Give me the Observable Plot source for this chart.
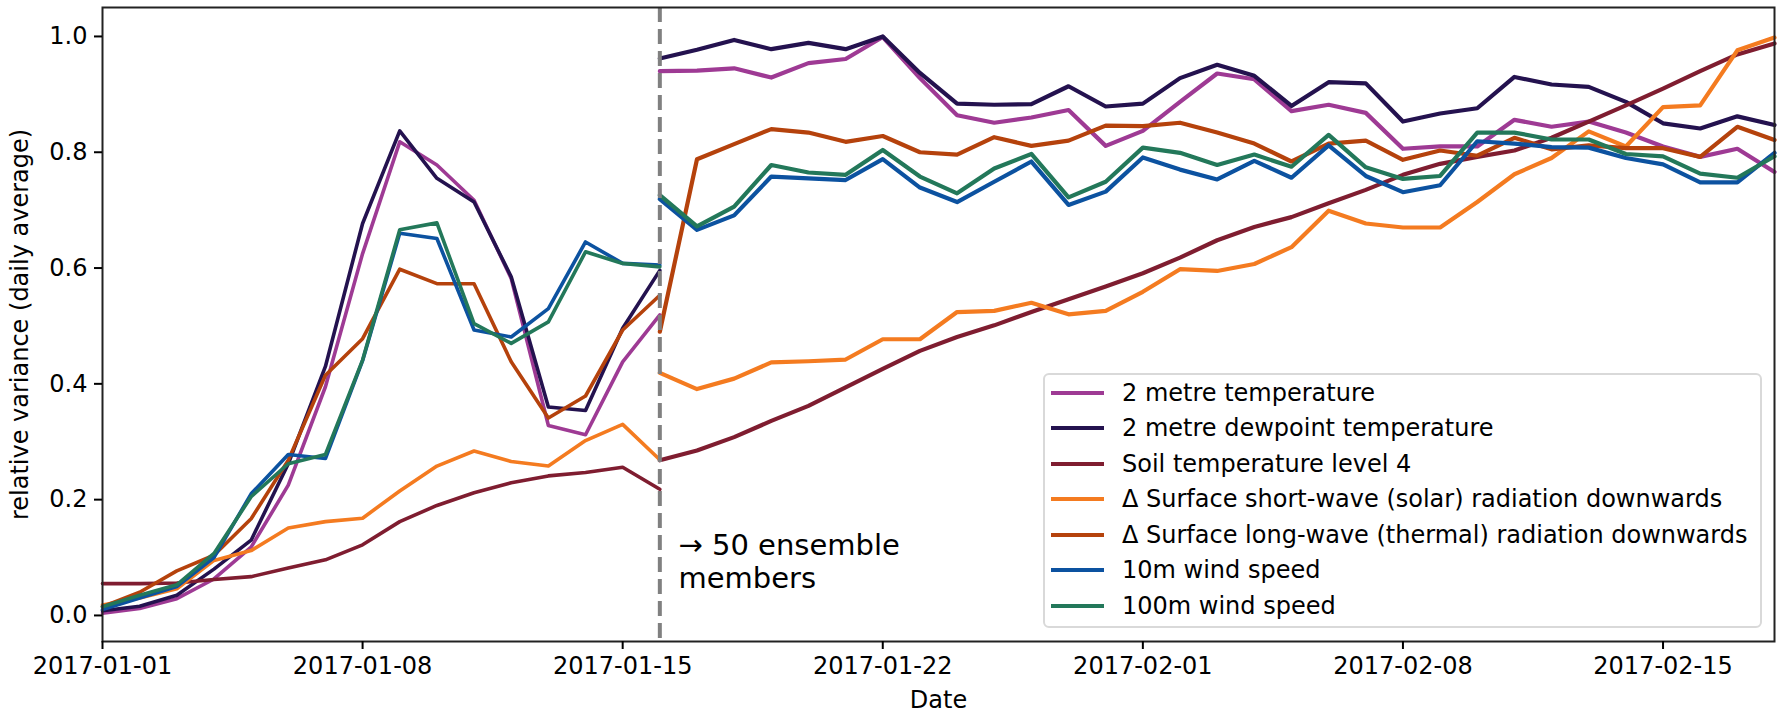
<!DOCTYPE html>
<html>
<head>
<meta charset="utf-8">
<script src="https://cdn.jsdelivr.net/npm/d3@7"></script>
<script src="https://cdn.jsdelivr.net/npm/@observablehq/plot@0.6"></script>
<style>
  body { margin: 0; background: #fff; font-family: "DejaVu Sans", sans-serif; }
  #wrap { position: relative; width: 1783px; height: 715px; }
  .legend {
    position: absolute; left: 1043px; top: 373px; width: 715px; height: 251px;
    border: 2px solid #d9d9d9; border-radius: 6px; background: rgba(255,255,255,0.85);
  }
  .legend .row { display: flex; align-items: center; height: 35.5px; }
  .legend .sw { width: 53px; height: 4px; margin-left: 6px; margin-right: 18px; }
  .legend .lbl { font-size: 24px; color: #000; white-space: nowrap; line-height: 1; }
</style>
</head>
<body>
<div id="wrap"></div>
<script>
// Series names and colours
const names = [
  "2 metre temperature",
  "2 metre dewpoint temperature",
  "Soil temperature level 4",
  "Δ Surface short-wave (solar) radiation downwards",
  "Δ Surface long-wave (thermal) radiation downwards",
  "10m wind speed",
  "100m wind speed"
];
const colors = ["#9e3a94", "#24124f", "#7f1d30", "#f47b20", "#b5420c", "#0c52a0", "#23785a"];

// Day index of the switch to 50 ensemble members
const switchDay = 15;

// Daily values before the switch (days 0..15)
const t2mPre   = [0.004, 0.012, 0.029, 0.063, 0.118, 0.225, 0.395, 0.625, 0.818, 0.778, 0.717, 0.582, 0.328, 0.312, 0.438, 0.519];
const d2mPre   = [0.008, 0.016, 0.035, 0.080, 0.130, 0.262, 0.430, 0.677, 0.837, 0.755, 0.714, 0.585, 0.360, 0.354, 0.496, 0.596];
const soilPre  = [0.055, 0.055, 0.056, 0.062, 0.067, 0.082, 0.096, 0.122, 0.162, 0.190, 0.212, 0.229, 0.241, 0.247, 0.256, 0.218];
const swPre    = [0.018, 0.030, 0.046, 0.095, 0.112, 0.151, 0.162, 0.168, 0.215, 0.258, 0.284, 0.266, 0.258, 0.302, 0.330, 0.269];
const lwPre    = [0.015, 0.040, 0.077, 0.104, 0.167, 0.268, 0.415, 0.478, 0.598, 0.573, 0.573, 0.438, 0.341, 0.379, 0.493, 0.553];
const ws10Pre  = [0.010, 0.030, 0.050, 0.100, 0.210, 0.278, 0.271, 0.440, 0.660, 0.651, 0.493, 0.481, 0.530, 0.645, 0.608, 0.605];
const ws100Pre = [0.015, 0.035, 0.053, 0.107, 0.205, 0.262, 0.278, 0.441, 0.666, 0.678, 0.504, 0.470, 0.507, 0.628, 0.608, 0.602];

// Daily values after the switch (days 15..45)
const t2mPost   = [0.940, 0.941, 0.945, 0.929, 0.954, 0.961, 0.999, 0.928, 0.864, 0.851, 0.860, 0.873, 0.811, 0.837, 0.887, 0.936, 0.926, 0.871, 0.882, 0.868, 0.806, 0.810, 0.810, 0.856, 0.844, 0.853, 0.834, 0.810, 0.792, 0.806, 0.766];
const d2mPost   = [0.962, 0.977, 0.994, 0.978, 0.989, 0.978, 1.000, 0.937, 0.884, 0.882, 0.883, 0.914, 0.879, 0.884, 0.928, 0.951, 0.932, 0.880, 0.921, 0.919, 0.853, 0.867, 0.876, 0.930, 0.917, 0.913, 0.887, 0.850, 0.841, 0.862, 0.847];
const soilPost  = [0.268, 0.285, 0.308, 0.336, 0.362, 0.394, 0.426, 0.457, 0.481, 0.501, 0.524, 0.546, 0.568, 0.591, 0.618, 0.648, 0.671, 0.688, 0.712, 0.735, 0.761, 0.780, 0.792, 0.803, 0.825, 0.853, 0.881, 0.910, 0.940, 0.969, 0.988];
const swPost    = [0.419, 0.391, 0.409, 0.437, 0.439, 0.442, 0.477, 0.477, 0.524, 0.526, 0.540, 0.520, 0.526, 0.559, 0.598, 0.595, 0.607, 0.636, 0.699, 0.677, 0.670, 0.670, 0.714, 0.762, 0.790, 0.836, 0.810, 0.878, 0.881, 0.976, 0.998];
const lwPost    = [0.490, 0.788, 0.814, 0.840, 0.834, 0.818, 0.828, 0.800, 0.796, 0.826, 0.811, 0.820, 0.846, 0.845, 0.851, 0.834, 0.815, 0.784, 0.815, 0.820, 0.787, 0.803, 0.794, 0.825, 0.805, 0.812, 0.807, 0.807, 0.792, 0.844, 0.821];
const ws10Post  = [0.719, 0.666, 0.691, 0.758, 0.755, 0.752, 0.788, 0.739, 0.714, 0.749, 0.784, 0.709, 0.732, 0.791, 0.770, 0.753, 0.785, 0.756, 0.812, 0.759, 0.731, 0.743, 0.819, 0.815, 0.809, 0.808, 0.790, 0.779, 0.748, 0.748, 0.799];
const ws100Post = [0.726, 0.672, 0.706, 0.778, 0.765, 0.761, 0.804, 0.758, 0.729, 0.772, 0.797, 0.722, 0.749, 0.808, 0.799, 0.778, 0.796, 0.775, 0.830, 0.774, 0.754, 0.759, 0.834, 0.834, 0.822, 0.822, 0.797, 0.793, 0.763, 0.756, 0.793];

// Axis ticks
const tickDays = [0, 7, 14, 21, 28, 35, 42];
const tickLabels = ["2017-01-01", "2017-01-08", "2017-01-15", "2017-01-22", "2017-02-01", "2017-02-08", "2017-02-15"];
const yTicks = [0, 0.2, 0.4, 0.6, 0.8, 1.0];

// Annotation at the switch
const noteText = "→ 50 ensemble\nmembers";
const noteDay = 15.5;
const noteValue = 0.094;

const pre = [t2mPre, d2mPre, soilPre, swPre, lwPre, ws10Pre, ws100Pre];
const post = [t2mPost, d2mPost, soilPost, swPost, lwPost, ws10Post, ws100Post];

// Long tables: one row per day and series, split by segment
const preRows = [];
const postRows = [];
names.forEach((name, k) => {
  pre[k].forEach((v, i) => preRows.push({series: name, day: i, value: v}));
  post[k].forEach((v, i) => postRows.push({series: name, day: switchDay + i, value: v}));
});

const chart = Plot.plot({
  width: 1783,
  height: 715,
  marginLeft: 102,
  marginRight: 9,
  marginTop: 7,
  marginBottom: 74,
  style: {fontFamily: "DejaVu Sans", fontSize: "24px", color: "black", background: "white"},
  x: {domain: [0, 45]},
  y: {domain: [-0.045, 1.05]},
  color: {domain: names, range: colors},
  marks: [
    Plot.lineY(preRows, {x: "day", y: "value", z: "series", stroke: "series", strokeWidth: 3.6, strokeLinejoin: "round"}),
    Plot.lineY(postRows, {x: "day", y: "value", z: "series", stroke: "series", strokeWidth: 4.2, strokeLinejoin: "round"}),
    Plot.ruleX([switchDay], {stroke: "#808080", strokeWidth: 4, strokeDasharray: "15,7"}),
    Plot.text([noteText], {x: noteDay, y: noteValue, text: d => d, textAnchor: "start", lineAnchor: "middle", fontSize: 29, lineHeight: 1.14, fill: "black"}),
    Plot.frame({stroke: "#222", strokeWidth: 2}),
    Plot.axisX({
      ticks: tickDays, tickFormat: d => tickLabels[tickDays.indexOf(d)],
      tickSize: 8, tickPadding: 7, strokeWidth: 2,
      label: "Date", labelAnchor: "center", labelArrow: "none", labelOffset: 66
    }),
    Plot.axisY({
      ticks: yTicks, tickFormat: d3.format(".1f"),
      tickSize: 8, tickPadding: 7, strokeWidth: 2,
      label: "relative variance (daily average)", labelAnchor: "center", labelArrow: "none", labelOffset: 92
    })
  ]
});

const wrap = document.getElementById("wrap");
wrap.appendChild(chart);

// Legend box inside the plot area
const legend = document.createElement("div");
legend.className = "legend";
names.forEach((name, k) => {
  const row = document.createElement("div");
  row.className = "row";
  const sw = document.createElement("div");
  sw.className = "sw";
  sw.style.background = colors[k];
  const lbl = document.createElement("div");
  lbl.className = "lbl";
  lbl.textContent = name;
  row.appendChild(sw);
  row.appendChild(lbl);
  legend.appendChild(row);
});
wrap.appendChild(legend);
</script>
</body>
</html>
